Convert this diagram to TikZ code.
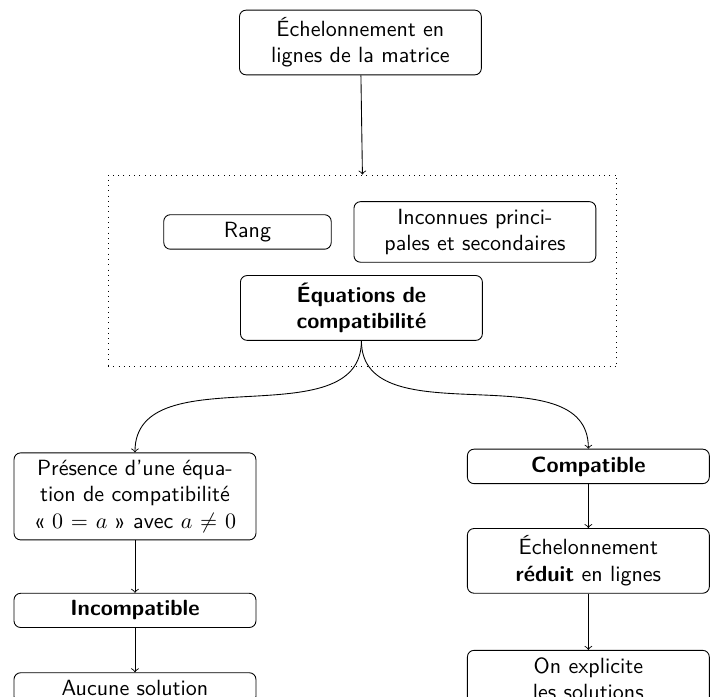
\documentclass[tikz,border=0pt]{standalone}
\usepackage{fontspec}
\usepackage{amsmath,amssymb}
\usepackage{tikz}
\usetikzlibrary{arrows,positioning}

\begin{document}
\begin{tikzpicture}[
  boite/.style={draw, rounded corners=3pt, align=center, font=\sffamily, text width=3.63cm},
  petite/.style={boite, text width=2.44cm},
  bloc/.style={draw, dotted, minimum width=8.129cm, minimum height=3.066cm},
  fleche/.style={->}
]
  \useasboundingbox (0,0) rectangle (11.373,-11.133);

  % etape initiale
  \node[boite] (ech) at (5.757,-0.679) {Échelonnement en\\lignes de la matrice};

  % informations obtenues
  \node[bloc] (info) at (5.789,-4.328) {};
  \node[petite] (rang) at (3.953,-3.705) {Rang};
  \node[boite] (inc) at (7.586,-3.705) {Inconnues princi-\\pales et secondaires};
  \node[boite] (eqc) at (5.773,-4.919) {\textbf{Équations de}\\\textbf{compatibilité}};

  % cas incompatible
  \node[boite] (pres) at (2.156,-7.929) {Présence d’une équa-\\tion de compatibilité\\«~$0 = a$~» avec $a \neq 0$};
  \node[boite] (incomp) at (2.156,-9.750) {\textbf{Incompatible}};
  \node[boite] (aucune) at (2.156,-10.987) {Aucune solution};

  % cas compatible
  \node[boite] (comp) at (9.398,-7.450) {\textbf{Compatible}};
  \node[boite] (red) at (9.398,-8.959) {Échelonnement\\\textbf{réduit} en lignes};
  \node[boite] (expl) at (9.398,-10.844) {On explicite\\les solutions};

  % liaisons
  \draw[fleche] (ech) -- (info.north);
  \draw[fleche] (eqc.south) to[out=-90,in=90] (pres.north);
  \draw[fleche] (eqc.south) to[out=-90,in=90] (comp.north);
  \draw[fleche] (pres) -- (incomp);
  \draw[fleche] (incomp) -- (aucune);
  \draw[fleche] (comp) -- (red);
  \draw[fleche] (red) -- (expl);
\end{tikzpicture}
\end{document}
